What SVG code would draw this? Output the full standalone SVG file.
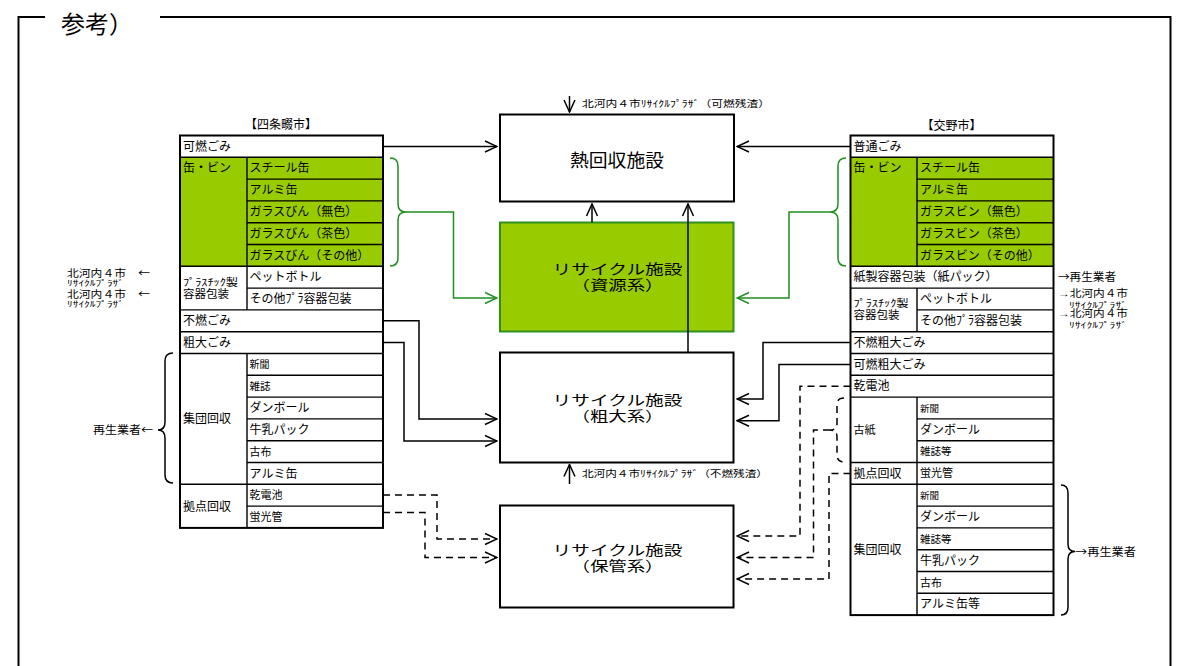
<svg xmlns="http://www.w3.org/2000/svg" width="1195" height="666" viewBox="0 0 1195 666">
<style>
text{font-family:"Liberation Sans","Noto Sans CJK JP",sans-serif;font-size:12px;fill:#000}
.ar{font-family:"Noto Sans CJK JP","Liberation Sans",sans-serif}
.ol{fill:none;stroke:#000;stroke-width:2}
.il{stroke:#000;stroke-width:1.4;fill:none}
.c{fill:none;stroke:#000;stroke-width:1.5}
.g{fill:none;stroke:#1f8f1f;stroke-width:1.5}
.d{fill:none;stroke:#000;stroke-width:1.5;stroke-dasharray:7 5}
.box{fill:#fff;stroke:#000;stroke-width:2}
.gbox{fill:#99cc00;stroke:#2f8f1f;stroke-width:2}
.gf{fill:#99cc00}
.big{font-size:14px;text-anchor:middle}
.sm{font-size:9.5px}
.xs{font-size:8px}
.lb{font-size:10px}
</style>
<defs>
<marker id="ah" markerUnits="userSpaceOnUse" markerWidth="14" markerHeight="14" viewBox="0 0 14 14" refX="13" refY="7" orient="auto"><path d="M1,1.5 L13,7 L1,12.5" fill="none" stroke="#000" stroke-width="1.5"/></marker>
<marker id="ahg" markerUnits="userSpaceOnUse" markerWidth="14" markerHeight="14" viewBox="0 0 14 14" refX="13" refY="7" orient="auto"><path d="M1,1.5 L13,7 L1,12.5" fill="none" stroke="#1f8f1f" stroke-width="1.5"/></marker>
</defs>
<rect width="1195" height="666" fill="#fff"/>

<g id="frame">
<path class="ol" d="M45,17 H18.5 V666 M160,17 H1170.5 V666"/>
<text x="61" y="33" style="font-size:24px">参考）</text>
</g>

<g id="table-shijonawate">
<text x="281" y="129.3" style="text-anchor:middle">【四条畷市】</text>
<rect class="gf" x="180" y="157.3" width="203" height="109"/>
<rect class="ol" x="180" y="135.5" width="203" height="392.4"/>
<path class="il" d="M180,157.3H383 M180,266.3H383 M180,309.9H383 M180,331.7H383 M180,353.5H383 M180,484.3H383
M247,179.1H383 M247,200.9H383 M247,222.7H383 M247,244.5H383 M247,288.1H383
M247,375.3H383 M247,397.1H383 M247,418.9H383 M247,440.7H383 M247,462.5H383 M247,506.1H383
M247,157.3V309.9 M247,353.5V527.9"/>
<text x="183" y="150.6">可燃ごみ</text>
<text x="183" y="172.4">缶・ビン</text>
<text x="249.5" y="172.4">スチール缶</text>
<text x="249.5" y="194.2">アルミ缶</text>
<text x="249.5" y="216">ガラスびん（無色）</text>
<text x="249.5" y="237.8">ガラスびん（茶色）</text>
<text x="249.5" y="259.6">ガラスびん（その他）</text>
<text x="183" y="285.5" style="font-size:10px" textLength="55" lengthAdjust="spacingAndGlyphs">ﾌﾟﾗｽﾁｯｸ製</text>
<text x="183" y="298" style="font-size:11.5px">容器包装</text>
<text x="249.5" y="281.4">ペットボトル</text>
<text x="249.5" y="303.2">その他ﾌﾟﾗ容器包装</text>
<text x="183" y="325">不燃ごみ</text>
<text x="183" y="346.8">粗大ごみ</text>
<text x="183" y="423.2">集団回収</text>
<text x="249.5" y="368.2" style="font-size:10px">新聞</text>
<text x="249.5" y="390.2" style="font-size:10.5px">雑誌</text>
<text x="249.5" y="412.2">ダンボール</text>
<text x="249.5" y="434">牛乳パック</text>
<text x="249.5" y="455.6" style="font-size:11px">古布</text>
<text x="249.5" y="477.6">アルミ缶</text>
<text x="183" y="510.9">拠点回収</text>
<text x="249.5" y="499.2" style="font-size:11px">乾電池</text>
<text x="249.5" y="521" style="font-size:11px">蛍光管</text>
</g>

<g id="table-katano">
<text x="951.5" y="130" style="text-anchor:middle">【交野市】</text>
<rect class="gf" x="850.5" y="157.3" width="203" height="109"/>
<rect class="ol" x="850.5" y="135.5" width="203" height="479.6"/>
<path class="il" d="M850.5,157.3H1053.5 M850.5,266.3H1053.5 M850.5,288.1H1053.5 M850.5,331.7H1053.5 M850.5,353.5H1053.5 M850.5,375.3H1053.5 M850.5,397.1H1053.5 M850.5,462.5H1053.5 M850.5,484.3H1053.5
M917,179.1H1053.5 M917,200.9H1053.5 M917,222.7H1053.5 M917,244.5H1053.5 M917,309.9H1053.5
M917,418.9H1053.5 M917,440.7H1053.5 M917,506.1H1053.5 M917,527.9H1053.5 M917,549.7H1053.5 M917,571.5H1053.5 M917,593.3H1053.5
M917,157.3V266.3 M917,288.1V331.7 M917,397.1V615.1"/>
<text x="853.5" y="150.6">普通ごみ</text>
<text x="853.5" y="172.4">缶・ビン</text>
<text x="920" y="172.4">スチール缶</text>
<text x="920" y="194.2">アルミ缶</text>
<text x="920" y="216">ガラスビン（無色）</text>
<text x="920" y="237.8">ガラスビン（茶色）</text>
<text x="920" y="259.6">ガラスビン（その他）</text>
<text x="853.5" y="281.4">紙製容器包装（紙パック）</text>
<text x="853.5" y="306.5" style="font-size:10px" textLength="55" lengthAdjust="spacingAndGlyphs">ﾌﾟﾗｽﾁｯｸ製</text>
<text x="853.5" y="319" style="font-size:11.5px">容器包装</text>
<text x="920" y="303.2">ペットボトル</text>
<text x="920" y="325">その他ﾌﾟﾗ容器包装</text>
<text x="853.5" y="346.8">不燃粗大ごみ</text>
<text x="853.5" y="368.6">可燃粗大ごみ</text>
<text x="853.5" y="390.4">乾電池</text>
<text x="853.5" y="433.7" style="font-size:11px">古紙</text>
<text x="920" y="411.6" style="font-size:9.5px">新聞</text>
<text x="920" y="434">ダンボール</text>
<text x="920" y="455.4" style="font-size:10.5px">雑誌等</text>
<text x="853.5" y="477.6">拠点回収</text>
<text x="920" y="477.4" style="font-size:11px">蛍光管</text>
<text x="853.5" y="554.2">集団回収</text>
<text x="920" y="498.8" style="font-size:9.5px">新聞</text>
<text x="920" y="521.2">ダンボール</text>
<text x="920" y="542.6" style="font-size:10.5px">雑誌等</text>
<text x="920" y="564.8">牛乳パック</text>
<text x="920" y="586.6" style="font-size:11px">古布</text>
<text x="920" y="608.4">アルミ缶等</text>
</g>

<g id="box-heat">
<rect class="box" x="500" y="114.5" width="234" height="87"/>
<text x="617" y="167" style="font-size:18px;text-anchor:middle" textLength="94" lengthAdjust="spacingAndGlyphs">熱回収施設</text>
</g>
<g id="box-resource">
<rect class="gbox" x="500" y="222.5" width="233.5" height="109"/>
<text class="big" x="617.5" y="274.3" textLength="130" lengthAdjust="spacingAndGlyphs">リサイクル施設</text>
<text class="big" x="617.5" y="290.3" textLength="92" lengthAdjust="spacingAndGlyphs">（資源系）</text>
</g>
<g id="box-bulky">
<rect class="box" x="500" y="352.5" width="233.5" height="110"/>
<text class="big" x="617.5" y="405.3" textLength="130" lengthAdjust="spacingAndGlyphs">リサイクル施設</text>
<text class="big" x="617.5" y="420.5" textLength="92" lengthAdjust="spacingAndGlyphs">（粗大系）</text>
</g>
<g id="box-storage">
<rect class="box" x="500" y="505.5" width="233.5" height="102"/>
<text class="big" x="617.5" y="555.3" textLength="130" lengthAdjust="spacingAndGlyphs">リサイクル施設</text>
<text class="big" x="617.5" y="571.3" textLength="92" lengthAdjust="spacingAndGlyphs">（保管系）</text>
</g>

<g id="labels">
<text class="sm" x="582" y="106.5" textLength="188" lengthAdjust="spacingAndGlyphs">北河内４市ﾘｻｲｸﾙﾌﾟﾗｻﾞ（可燃残渣）</text>
<text class="sm" x="582" y="476.5" textLength="186" lengthAdjust="spacingAndGlyphs">北河内４市ﾘｻｲｸﾙﾌﾟﾗｻﾞ（不燃残渣）</text>
<text class="lb" x="67" y="277" textLength="59" lengthAdjust="spacingAndGlyphs">北河内４市</text>
<text class="xs" x="67" y="285.5" textLength="57" lengthAdjust="spacingAndGlyphs">ﾘｻｲｸﾙﾌﾟﾗｻﾞ</text>
<text class="lb ar" x="138" y="277" textLength="12" lengthAdjust="spacingAndGlyphs">←</text>
<text class="lb" x="67" y="298" textLength="59" lengthAdjust="spacingAndGlyphs">北河内４市</text>
<text class="xs" x="67" y="306.5" textLength="57" lengthAdjust="spacingAndGlyphs">ﾘｻｲｸﾙﾌﾟﾗｻﾞ</text>
<text class="lb ar" x="138" y="298" textLength="12" lengthAdjust="spacingAndGlyphs">←</text>
<text class="ar" x="93" y="434" style="font-size:11px" textLength="60" lengthAdjust="spacingAndGlyphs">再生業者←</text>
<text class="ar" x="1058" y="280.5" style="font-size:11px" textLength="58" lengthAdjust="spacingAndGlyphs">→再生業者</text>
<text class="lb" x="1058" y="296.5" textLength="70" lengthAdjust="spacingAndGlyphs">→北河内４市</text>
<text class="xs" x="1069" y="308" textLength="58" lengthAdjust="spacingAndGlyphs">ﾘｻｲｸﾙﾌﾟﾗｻﾞ</text>
<text class="lb" x="1058" y="317" textLength="70" lengthAdjust="spacingAndGlyphs">→北河内４市</text>
<text class="xs" x="1069" y="327.5" textLength="58" lengthAdjust="spacingAndGlyphs">ﾘｻｲｸﾙﾌﾟﾗｻﾞ</text>
<text class="ar" x="1075" y="555.5" style="font-size:11px" textLength="61" lengthAdjust="spacingAndGlyphs">→再生業者</text>
</g>

<g id="connectors">
<path class="c" d="M383,146.5H497" marker-end="url(#ah)"/>
<path class="c" d="M850.5,146.5H737" marker-end="url(#ah)"/>
<path class="c" d="M592,222.5V204" marker-end="url(#ah)"/>
<path class="c" d="M688,352.5V204" marker-end="url(#ah)"/>
<path class="c" d="M569.5,96V112" marker-end="url(#ah)"/>
<path class="c" d="M569.5,484V464.5" marker-end="url(#ah)"/>
<path class="c" d="M383,320.8H419V419H497" marker-end="url(#ah)"/>
<path class="c" d="M383,342.6H404V441H497" marker-end="url(#ah)"/>
<path class="c" d="M850.5,342.6H763V399H737" marker-end="url(#ah)"/>
<path class="c" d="M850.5,364.4H779V420.7H737" marker-end="url(#ah)"/>
<path class="g" d="M390,158Q398,158 398,166V204Q398,212 406,212Q398,212 398,220V258Q398,266 390,266"/>
<path class="g" d="M406,212H453.5V298H497" marker-end="url(#ahg)"/>
<path class="g" d="M846,158Q838,158 838,166V204Q838,212 830,212Q838,212 838,220V258Q838,266 846,266"/>
<path class="g" d="M830,212H789V298H737" marker-end="url(#ahg)"/>
<path class="c" d="M173,353Q165,353 165,361V422Q165,430 158,430Q165,430 165,438V475Q165,483 173,483"/>
<path class="c" d="M1061,485Q1068,485 1068,493V544Q1068,551.5 1075,551.5Q1068,551.5 1068,559V607Q1068,615 1061,615"/>
<path class="d" d="M383,495H437V539H497" marker-end="url(#ah)"/>
<path class="d" d="M383,512.5H425V557.5H497" marker-end="url(#ah)"/>
<path class="d" d="M850.5,386.2H800V536H737" marker-end="url(#ah)"/>
<path class="d" d="M844,398Q837,398 837,405V423Q837,430 830,430Q837,430 837,437V455Q837,462 844,462"/>
<path class="d" d="M830,430H813.5V557.5H737" marker-end="url(#ah)"/>
<path class="d" d="M850.5,473.4H829V579H737" marker-end="url(#ah)"/>
</g>
</svg>
